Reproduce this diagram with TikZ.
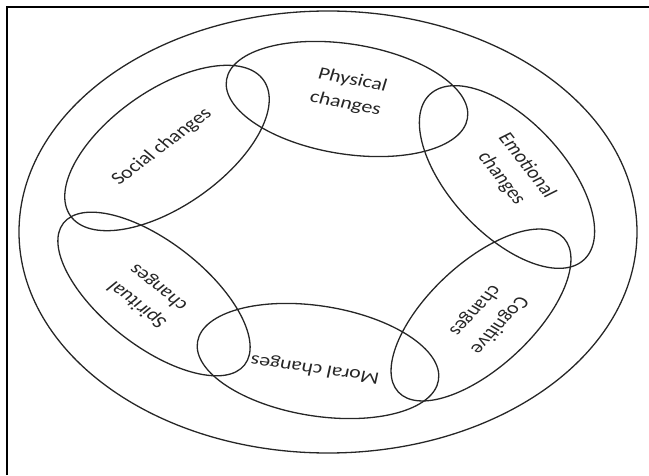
\documentclass[tikz,border=0pt]{standalone}
\usepackage{fontspec}
\setmainfont{Carlito}
\begin{document}
\begin{tikzpicture}[x=1pt,y=1pt,
  ring/.style={draw=black!85, line width=1.3pt},
  lbl/.style={font=\fontsize{17.5}{24}\selectfont, text=black!85, align=center, inner sep=0pt, xscale=1.25}]
\useasboundingbox (0,0) rectangle (649,475);
% frame
\draw[line width=2pt] (7,0) -- (7,467.5) -- (649,467.5);
% outer ellipse
\draw[ring] (328,243) ellipse [x radius=309pt, y radius=221pt];
% six ellipses
\draw[ring, rotate around={-9:(347,376)}] (347,376) ellipse [x radius=122pt, y radius=55pt];
\draw[ring, rotate around={35:(167,327)}] (167,327) ellipse [x radius=118pt, y radius=58pt];
\draw[ring, rotate around={-47:(507,298)}] (507,298) ellipse [x radius=113pt, y radius=57pt];
\draw[ring, rotate around={43:(481,160)}] (481,160) ellipse [x radius=113pt, y radius=52pt];
\draw[ring, rotate around={-9:(318,114)}] (318,114) ellipse [x radius=122pt, y radius=55pt];
\draw[ring, rotate around={-38:(154,181)}] (154,181) ellipse [x radius=115pt, y radius=52pt];
% labels
\node[lbl, rotate=-13.7] (phys) at (349,383) {Physical\\changes};
\node[lbl, rotate=43.3] (soc) at (162,328) {Social changes};
\node[lbl, rotate=-58] (emo) at (514,303) {Emotional\\changes};
\node[lbl, rotate=-126.7] (cog) at (487,157) {Cognitive\\changes};
\node[lbl, rotate=170] (mor) at (315,106) {Moral changes};
\node[lbl, rotate=135.6] (spi) at (148,179) {Spiritual\\changes};
\end{tikzpicture}
\end{document}
